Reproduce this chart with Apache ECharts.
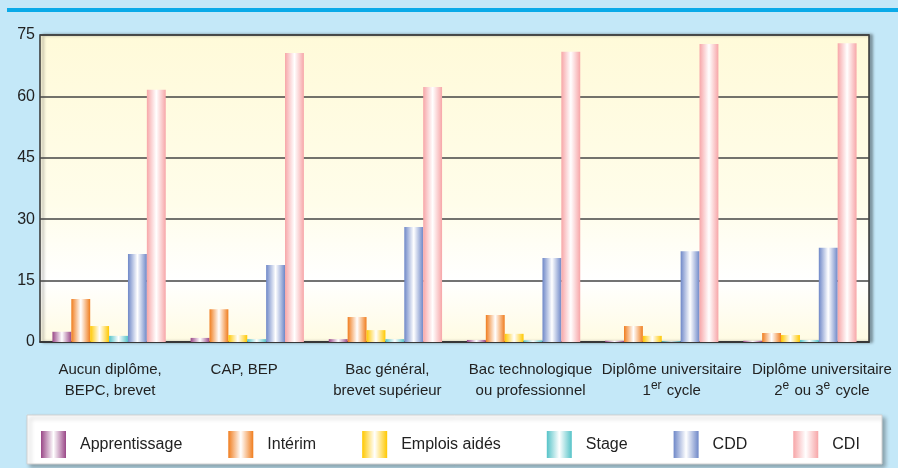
<!DOCTYPE html>
<html>
<head>
<meta charset="utf-8">
<script src="https://cdn.jsdelivr.net/npm/echarts@6/dist/echarts.min.js"></script>
<style>
  html, body { margin: 0; padding: 0; background: #c4e8f8; }
  #chart { width: 898px; height: 468px; }
</style>
</head>
<body>
<div id="chart"></div>
<script>
// niveaux de diplôme
var categories = [
  'Aucun diplôme,\nBEPC, brevet',
  'CAP, BEP',
  'Bac général,\nbrevet supérieur',
  'Bac technologique\nou professionnel',
  'Diplôme universitaire\n1{sup|er} cycle',
  'Diplôme universitaire\n2{sup|e} ou 3{sup|e} cycle'
];
var seriesNames = ['Apprentissage', 'Intérim', 'Emplois aidés', 'Stage', 'CDD', 'CDI'];
var apprentissage = [2.5, 1.0, 0.7, 0.5, 0.3, 0.3];
var interim = [10.5, 8.0, 6.1, 6.6, 3.9, 2.2];
var emploisAides = [3.9, 1.7, 2.9, 2.0, 1.5, 1.7];
var stage = [1.5, 0.7, 0.7, 0.4, 0.2, 0.5];
var cdd = [21.5, 18.8, 28.1, 20.5, 22.2, 23.0];
var cdi = [61.6, 70.6, 62.3, 70.9, 72.8, 73.0];
var yTicks = [0, 15, 30, 45, 60, 75];

var colors = ['#9a4888', '#f07d1e', '#ffc800', '#55c3c8', '#6f88c8', '#f7a6a8'];
var values = [apprentissage, interim, emploisAides, stage, cdd, cdi];
// décalage horizontal des libellés (comme sur l'original)
var labelShift = [1, -3, 2, 7, 10, 22];

function barGrad(c) {
  return new echarts.graphic.LinearGradient(0, 0, 1, 0, [
    { offset: 0, color: c },
    { offset: 0.5, color: '#ffffff' },
    { offset: 1, color: c }
  ]);
}

var chart = echarts.init(document.getElementById('chart'));
var series = [];
for (var i = 0; i < seriesNames.length; i++) {
  series.push({
    name: seriesNames[i],
    type: 'bar',
    data: values[i],
    barGap: '0%',
    barCategoryGap: '18%',
    itemStyle: { color: barGrad(colors[i]) }
  });
}

var catData = categories.map(function (c, k) {
  var s = labelShift[k];
  return {
    value: c,
    textStyle: { padding: s >= 0 ? [0, 0, 0, 2 * s] : [0, -2 * s, 0, 0] }
  };
});

var option = {
  backgroundColor: '#c4e8f8',
  animation: false,
  grid: {
    left: 40, top: 35, right: 29, bottom: 126,
    show: true,
    borderColor: '#333',
    borderWidth: 1.5,
    backgroundColor: new echarts.graphic.LinearGradient(0, 0, 0, 1, [
      { offset: 0, color: '#fffad9' },
      { offset: 0.55, color: '#fffdea' },
      { offset: 0.8, color: '#ffffff' },
      { offset: 1, color: '#fffbe2' }
    ]),
    shadowColor: 'rgba(0,0,0,0.35)',
    shadowBlur: 3,
    shadowOffsetX: 3,
    shadowOffsetY: 0
  },
  graphic: [
    { type: 'rect', shape: { x: 7, y: 8, width: 891, height: 4 }, style: { fill: '#0aaae8' } },
    {
      type: 'rect', z: -1,
      shape: { x: 27, y: 415, width: 855, height: 49 },
      style: {
        fill: '#ffffff', stroke: '#d0d0d0', lineWidth: 1,
        shadowColor: 'rgba(0,0,0,0.3)', shadowBlur: 4, shadowOffsetX: 3, shadowOffsetY: 3
      }
    }
  ],
  legend: {
    left: 41, top: 431, padding: 0,
    itemWidth: 25, itemHeight: 27, itemGap: 46,
    icon: 'rect',
    data: seriesNames,
    textStyle: { fontSize: 16, color: '#222', fontFamily: 'Liberation Sans', padding: [0, 0, 0, 9] }
  },
  xAxis: {
    type: 'category',
    data: catData,
    axisTick: { show: false },
    axisLine: { lineStyle: { color: '#333', width: 1.5 } },
    axisLabel: {
      interval: 0, margin: 17, lineHeight: 21,
      fontSize: 15, color: '#222', fontFamily: 'Liberation Sans',
      rich: { sup: { fontSize: 12, color: '#222', verticalAlign: 'top', padding: [0, 1, 6, 0] } }
    }
  },
  yAxis: {
    type: 'value',
    min: 0, max: 75, interval: 15,
    axisLine: { show: false },
    axisTick: { show: false },
    splitLine: { lineStyle: { color: '#444', width: 1.5 } },
    axisLabel: {
      fontSize: 16, color: '#222', margin: 5, fontFamily: 'Liberation Sans',
      formatter: function (v) { return yTicks.indexOf(v) >= 0 ? String(v) : ''; }
    }
  },
  series: series
};
chart.setOption(option);
</script>
</body>
</html>
